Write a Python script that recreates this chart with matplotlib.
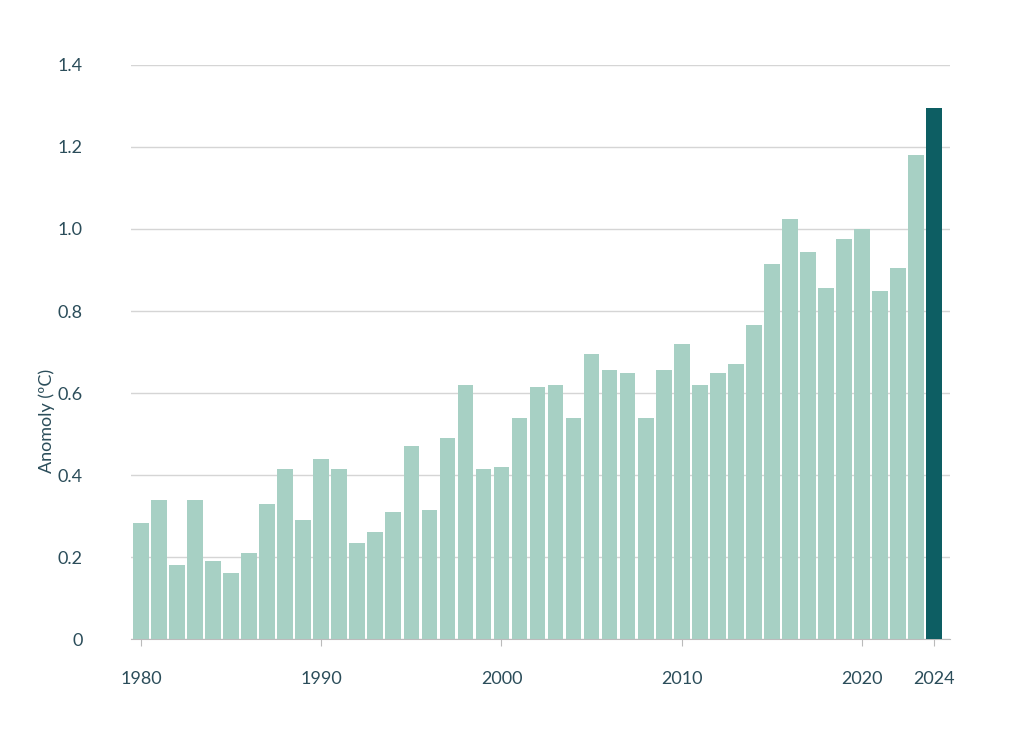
import matplotlib
matplotlib.use("Agg")
import matplotlib.pyplot as plt

years = list(range(1980, 2025))
anomaly = [0.283, 0.34, 0.18, 0.34, 0.19, 0.16, 0.21, 0.33, 0.415, 0.29,
           0.44, 0.415, 0.235, 0.26, 0.31, 0.47, 0.315, 0.49, 0.62, 0.415,
           0.42, 0.54, 0.615, 0.62, 0.54, 0.695, 0.655, 0.65, 0.54, 0.655,
           0.72, 0.62, 0.65, 0.67, 0.765, 0.915, 1.025, 0.945, 0.855, 0.975,
           1.0, 0.85, 0.905, 1.18, 1.295]
xticks = [1980, 1990, 2000, 2010, 2020, 2024]
yticks = [0, 0.2, 0.4, 0.6, 0.8, 1.0, 1.2, 1.4]
ylabels = ["0", "0.2", "0.4", "0.6", "0.8", "1.0", "1.2", "1.4"]

plt.rcParams['font.family'] = ['Lato', 'DejaVu Sans']
txt = "#2b4d5a"
fig = plt.figure(figsize=(10.24, 7.38), dpi=100)
ax = fig.add_axes([0.128, 0.134, 0.8, 0.778])
colors = ["#a7d0c4"] * (len(years) - 1) + ["#0d5e63"]
ax.bar(years, anomaly, width=0.87, color=colors, zorder=3)
ax.set_xlim(1979.45, 2024.9)
ax.set_ylim(0, 1.4)
ax.set_yticks(yticks)
ax.set_yticklabels(ylabels)
ax.set_xticks(xticks)
ax.grid(axis='y', color="#d5d5d5", linewidth=1, zorder=0)
for s in ['top', 'right', 'left']:
    ax.spines[s].set_visible(False)
ax.spines['bottom'].set_color("#bbbbbb")
ax.tick_params(axis='y', length=0, pad=35, labelsize=13, colors=txt)
ax.tick_params(axis='x', length=5, color="#bbbbbb", pad=18, labelsize=13, colors=txt)
ax.set_ylabel("Anomoly (ºC)", fontsize=13, color=txt)
ax.yaxis.set_label_coords(-0.093, 0.38)
fig.savefig("out.png")
